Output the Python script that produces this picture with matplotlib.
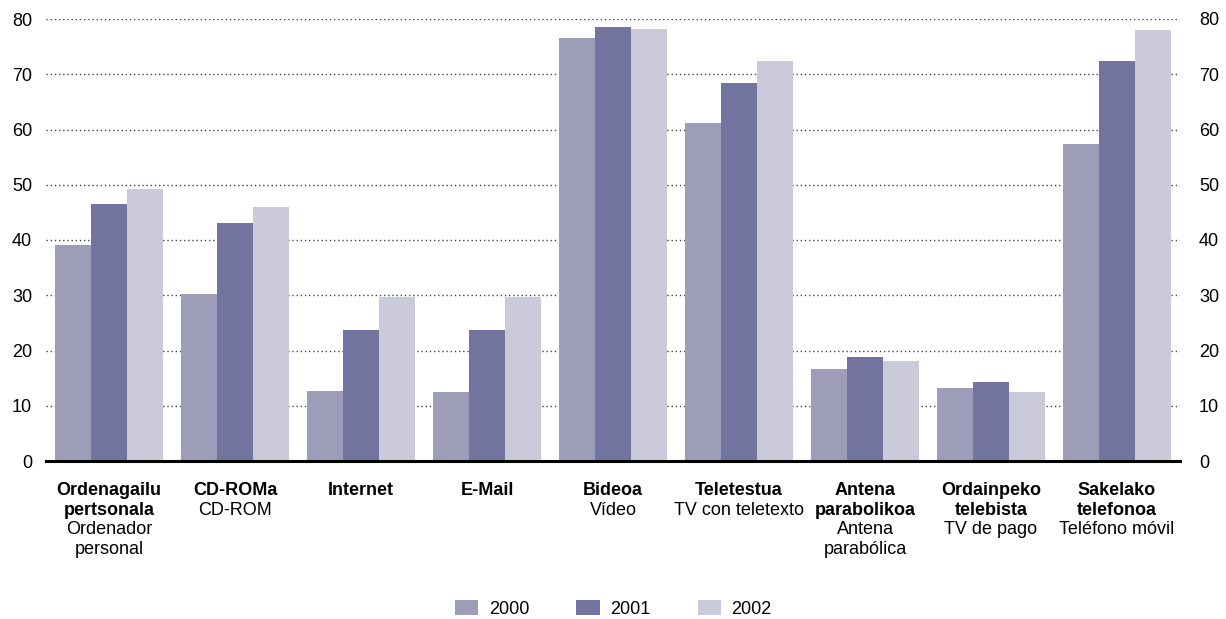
import matplotlib.pyplot as plt
import numpy as np

plt.rcParams['font.family'] = ['Liberation Sans', 'DejaVu Sans']

# Datuak / datos (%)
eu_labels = ['Ordenagailu\npertsonala', 'CD-ROMa', 'Internet', 'E-Mail', 'Bideoa',
             'Teletestua', 'Antena\nparabolikoa', 'Ordainpeko\ntelebista', 'Sakelako\ntelefonoa']
es_labels = ['Ordenador\npersonal', 'CD-ROM', '', '', 'Vídeo',
             'TV con teletexto', 'Antena\nparabólica', 'TV de pago', 'Teléfono móvil']
years = ['2000', '2001', '2002']
v2000 = [39.1, 30.2, 12.7, 12.5, 76.6, 61.2, 16.7, 13.2, 57.4]
v2001 = [46.5, 43.1, 23.7, 23.7, 78.6, 68.4, 18.8, 14.3, 72.4]
v2002 = [49.2, 46.0, 29.7, 29.7, 78.2, 72.4, 18.1, 12.5, 78.0]

colors = ['#9d9cb9', '#72739f', '#cbcadb']

W, H = 1226, 619
fig = plt.figure(figsize=(W / 100, H / 100), dpi=100)
ax = fig.add_axes([46 / W, 1 - 461 / H, (1180 - 46) / W, (461 - 19) / H])

x = np.arange(len(eu_labels))
bw = 0.288
bars = []
for k, vals in enumerate([v2000, v2001, v2002]):
    b = ax.bar(x + (k - 1) * bw, vals, width=bw, color=colors[k], label=years[k],
               zorder=2, linewidth=0)
    bars.append(b)

ax.set_xlim(-0.5, len(eu_labels) - 0.5)
ax.set_ylim(0, 80)
ax.set_yticks(range(0, 81, 10))
ax.yaxis.grid(True, linestyle=(0, (1, 2)), color='#444444', linewidth=1, zorder=0)
ax.set_axisbelow(True)
for s in ['top', 'left', 'right']:
    ax.spines[s].set_visible(False)
ax.spines['bottom'].set_linewidth(2.2)
ax.spines['bottom'].set_color('black')
ax.spines['bottom'].set_zorder(3)
ax.set_xticks([])
ax.tick_params(axis='y', length=0, labelsize=13, pad=10, colors='black')

# eskuineko ardatza
ax2 = ax.twinx()
ax2.set_ylim(0, 80)
ax2.set_yticks(range(0, 81, 10))
for s in ax2.spines.values():
    s.set_visible(False)
ax2.tick_params(axis='y', length=0, labelsize=13, pad=13.7)

# kategoria etiketak (euskara lodiz, gaztelania arruntez)
px = 0.72
for i in range(len(eu_labels)):
    lines = [(t, 'bold') for t in eu_labels[i].split('\n')]
    if es_labels[i]:
        lines += [(t, 'normal') for t in es_labels[i].split('\n')]
    for j, (t, wt) in enumerate(lines):
        ax.annotate(t, xy=(i, 0), xycoords='data',
                    xytext=(0, -(21 + 19.7 * j) * px), textcoords='offset points',
                    ha='center', va='top', fontsize=13, fontweight=wt, color='black')

fig.legend(handles=bars, labels=years, loc='center', ncol=3, frameon=False,
           bbox_to_anchor=(613.5 / W, 1 - 609 / H), fontsize=13,
           handlelength=1.28, handleheight=0.89, handletextpad=0.6,
           columnspacing=2.6, borderpad=0, borderaxespad=0)

fig.savefig('out.png', dpi=100, facecolor='white')
